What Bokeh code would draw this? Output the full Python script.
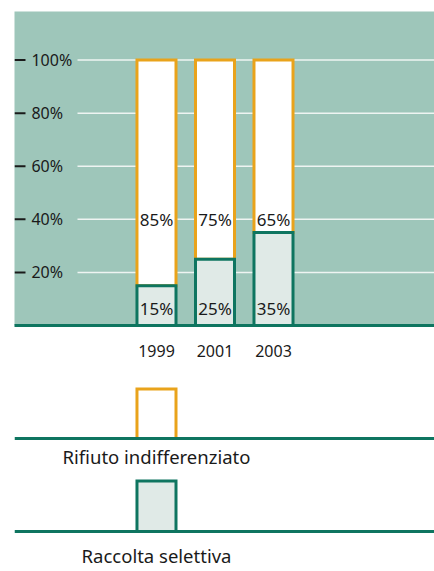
from bokeh.plotting import figure
from bokeh.models import Range1d, FixedTicker, Span
from bokeh.layouts import column
from bokeh.embed import file_html
from bokeh.resources import INLINE
from bokeh.core.properties import value

# ---- data ----
years = ["1999", "2001", "2003"]
raccolta_selettiva = [15, 25, 35]        # %
rifiuto_indifferenziato = [85, 75, 65]   # %
tick_values = [20, 40, 60, 80, 100]
tick_labels = ["20%", "40%", "60%", "80%", "100%"]
legend_labels = ["Rifiuto indifferenziato", "Raccolta selettiva"]

# ---- style ----
BG = "#9ec6ba"
ORANGE = "#e9a31b"
GREEN = "#0e7560"
LIGHT = "#e0eae7"
TEXT = "#1a1a1a"
GRID = "#eef4f2"
FONT = "Noto Sans"

xs = list(range(len(years)))
bw = 0.667
X0, X1 = -2.427, 4.752

p = figure(width=434, height=375, x_range=Range1d(X0, X1), y_range=Range1d(0, 118.3),
           output_backend="svg", toolbar_location=None,
           min_border_left=14, min_border_right=0, min_border_top=11, min_border_bottom=50,
           background_fill_color=BG, border_fill_color="white", outline_line_color=None,
           y_axis_location=None)
p.grid.visible = False

ax = p.xaxis[0]
ax.ticker = FixedTicker(ticks=xs)
ax.major_label_overrides = {i: y for i, y in zip(xs, years)}
ax.axis_line_color = GREEN
ax.axis_line_width = 3
ax.major_tick_line_color = None
ax.minor_tick_line_color = None
ax.major_label_text_font = FONT
ax.major_label_text_font_size = "16px"
ax.major_label_text_color = TEXT
ax.major_label_standoff = 13

# gridlines
p.segment(x0=[-1.35] * len(tick_values), x1=[X1 + 1] * len(tick_values),
          y0=tick_values, y1=tick_values, line_color=GRID, line_width=1.5)
# tick dashes
p.segment(x0=[X0] * len(tick_values), x1=[-2.239] * len(tick_values),
          y0=tick_values, y1=tick_values, line_color=TEXT, line_width=2)
p.text(x=[-2.137] * len(tick_values), y=tick_values, text=tick_labels,
       text_align="left", text_baseline="middle", text_font=value(FONT),
       text_font_size="16px", text_color=TEXT)

# bars
left = [x - bw / 2 for x in xs]
right = [x + bw / 2 for x in xs]
p.quad(left=left, right=right, bottom=raccolta_selettiva,
       top=[a + b for a, b in zip(raccolta_selettiva, rifiuto_indifferenziato)],
       fill_color="white", line_color=ORANGE, line_width=3, line_join="miter")
p.quad(left=left, right=right, bottom=[0] * len(xs), top=raccolta_selettiva,
       fill_color=LIGHT, line_color=GREEN, line_width=3, line_join="miter")

p.text(x=xs, y=[40] * len(xs), text=[f"{v}%" for v in rifiuto_indifferenziato],
       text_align="center", text_baseline="middle", text_font=value(FONT),
       text_font_size="17px", text_color=TEXT)
p.text(x=xs, y=[6.5] * len(xs), text=[f"{v}%" for v in raccolta_selettiva],
       text_align="center", text_baseline="middle", text_font=value(FONT),
       text_font_size="17px", text_color=TEXT)

# ---- legend figure ----
q = figure(width=434, height=196, x_range=p.x_range, y_range=Range1d(196, 0),
           output_backend="svg", toolbar_location=None,
           min_border_left=14, min_border_right=0, min_border_top=0, min_border_bottom=0,
           background_fill_color="white", border_fill_color="white", outline_line_color=None,
           x_axis_location=None, y_axis_location=None)
q.grid.visible = False
q.quad(left=[-bw / 2], right=[bw / 2], top=[13.5], bottom=[63],
       fill_color="white", line_color=ORANGE, line_width=3, line_join="miter")
q.quad(left=[-bw / 2], right=[bw / 2], top=[105.5], bottom=[156],
       fill_color=LIGHT, line_color=GREEN, line_width=3, line_join="miter")
q.add_layout(Span(location=63, dimension="width", line_color=GREEN, line_width=3))
q.add_layout(Span(location=156, dimension="width", line_color=GREEN, line_width=3))
q.text(x=[0, 0], y=[81, 180], text=legend_labels,
       text_align="center", text_baseline="middle", text_font=value(FONT),
       text_font_size="18.5px", text_color=TEXT)

layout = column(p, q, spacing=0)
open("out.html", "w").write(file_html(layout, INLINE))
